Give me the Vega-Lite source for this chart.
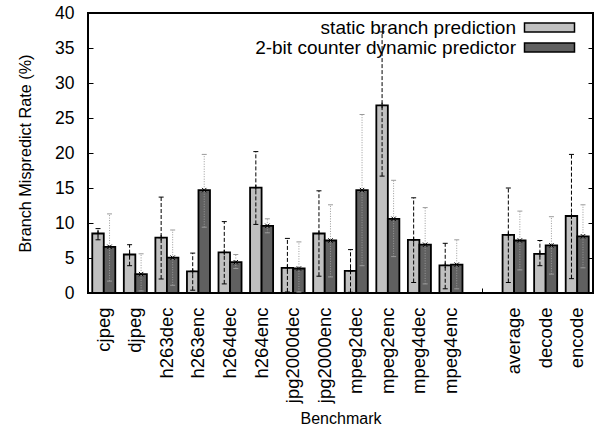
{
  "$schema": "https://vega.github.io/schema/vega-lite/v6.json",
  "width": 505,
  "height": 280,
  "autosize": {"type": "none"},
  "padding": {"left": 88, "top": 13, "right": 4, "bottom": 135},
  "background": "white",
  "config": {
    "font": "Liberation Sans",
    "view": {"stroke": "black", "strokeWidth": 2},
    "axis": {
      "grid": false,
      "domain": false,
      "tickColor": "black",
      "tickSize": -5,
      "tickWidth": 1,
      "labelColor": "black",
      "titleColor": "black",
      "titleFontWeight": "normal"
    },
    "legend": {
      "orient": "none",
      "legendX": 452,
      "legendY": 5,
      "labelFontSize": 19,
      "labelColor": "black",
      "labelAlign": "right",
      "labelOffset": -43,
      "labelLimit": 0,
      "symbolType": "M-5,-0.9L5,-0.9L5,0.9L-5,0.9Z",
      "symbolSize": 100,
      "symbolStrokeColor": "black",
      "symbolStrokeWidth": 1.5,
      "symbolOpacity": 1,
      "rowPadding": 0,
      "padding": 0
    }
  },
  "data": {
    "values": [
      {"bench": "cjpeg", "pred": "static branch prediction", "rate": 8.5, "lo": 7.6, "hi": 9.2},
      {"bench": "cjpeg", "pred": "2-bit counter dynamic predictor", "rate": 6.6, "lo": 1.7, "hi": 11.3},
      {"bench": "djpeg", "pred": "static branch prediction", "rate": 5.5, "lo": 3.9, "hi": 6.9},
      {"bench": "djpeg", "pred": "2-bit counter dynamic predictor", "rate": 2.7, "lo": 0.3, "hi": 5.6},
      {"bench": "h263dec", "pred": "static branch prediction", "rate": 7.9, "lo": 2.0, "hi": 13.7},
      {"bench": "h263dec", "pred": "2-bit counter dynamic predictor", "rate": 5.05, "lo": 1.1, "hi": 9.0},
      {"bench": "h263enc", "pred": "static branch prediction", "rate": 3.1, "lo": 0.4, "hi": 5.7},
      {"bench": "h263enc", "pred": "2-bit counter dynamic predictor", "rate": 14.7, "lo": 9.4, "hi": 19.8},
      {"bench": "h264dec", "pred": "static branch prediction", "rate": 5.8, "lo": 1.3, "hi": 10.2},
      {"bench": "h264dec", "pred": "2-bit counter dynamic predictor", "rate": 4.4, "lo": 3.5, "hi": 5.5},
      {"bench": "h264enc", "pred": "static branch prediction", "rate": 15.05, "lo": 9.8, "hi": 20.2},
      {"bench": "h264enc", "pred": "2-bit counter dynamic predictor", "rate": 9.6, "lo": 8.6, "hi": 10.6},
      {"bench": "jpg2000dec", "pred": "static branch prediction", "rate": 3.6, "lo": 0.15, "hi": 7.8},
      {"bench": "jpg2000dec", "pred": "2-bit counter dynamic predictor", "rate": 3.5, "lo": 0.15, "hi": 7.3},
      {"bench": "jpg2000enc", "pred": "static branch prediction", "rate": 8.5, "lo": 2.4, "hi": 14.6},
      {"bench": "jpg2000enc", "pred": "2-bit counter dynamic predictor", "rate": 7.5, "lo": 2.3, "hi": 12.6},
      {"bench": "mpeg2dec", "pred": "static branch prediction", "rate": 3.15, "lo": 0.1, "hi": 6.2},
      {"bench": "mpeg2dec", "pred": "2-bit counter dynamic predictor", "rate": 14.7, "lo": 3.9, "hi": 25.5},
      {"bench": "mpeg2enc", "pred": "static branch prediction", "rate": 26.8, "lo": 16.7, "hi": 37.3},
      {"bench": "mpeg2enc", "pred": "2-bit counter dynamic predictor", "rate": 10.6, "lo": 5.2, "hi": 16.1},
      {"bench": "mpeg4dec", "pred": "static branch prediction", "rate": 7.6, "lo": 1.5, "hi": 13.6},
      {"bench": "mpeg4dec", "pred": "2-bit counter dynamic predictor", "rate": 6.9, "lo": 1.3, "hi": 12.2},
      {"bench": "mpeg4enc", "pred": "static branch prediction", "rate": 3.95, "lo": 0.6, "hi": 7.1},
      {"bench": "mpeg4enc", "pred": "2-bit counter dynamic predictor", "rate": 4.05, "lo": 0.6, "hi": 7.6},
      {"bench": "average", "pred": "static branch prediction", "rate": 8.3, "lo": 1.5, "hi": 15.0},
      {"bench": "average", "pred": "2-bit counter dynamic predictor", "rate": 7.5, "lo": 3.3, "hi": 11.7},
      {"bench": "decode", "pred": "static branch prediction", "rate": 5.6, "lo": 3.9, "hi": 7.5},
      {"bench": "decode", "pred": "2-bit counter dynamic predictor", "rate": 6.8, "lo": 2.7, "hi": 10.9},
      {"bench": "encode", "pred": "static branch prediction", "rate": 11.0, "lo": 2.05, "hi": 19.8},
      {"bench": "encode", "pred": "2-bit counter dynamic predictor", "rate": 8.1, "lo": 3.6, "hi": 12.6}
    ]
  },
  "encoding": {
    "x": {
      "field": "bench",
      "type": "nominal",
      "scale": {
        "domain": ["cjpeg", "djpeg", "h263dec", "h263enc", "h264dec", "h264enc", "jpg2000dec", "jpg2000enc", "mpeg2dec", "mpeg2enc", "mpeg4dec", "mpeg4enc", " ", "average", "decode", "encode"],
        "paddingInner": 0.27,
        "paddingOuter": 0.135
      },
      "axis": {
        "title": "Benchmark",
        "titleFontSize": 16,
        "titlePadding": 8,
        "labelAngle": -90,
        "labelFontSize": 18.5,
        "labelPadding": 19
      }
    },
    "xOffset": {
      "field": "pred",
      "type": "nominal",
      "scale": {
        "domain": ["static branch prediction", "2-bit counter dynamic predictor"],
        "paddingInner": 0,
        "paddingOuter": 0
      }
    }
  },
  "layer": [
    {
      "mark": {"type": "bar", "stroke": "black", "strokeWidth": 1.8},
      "encoding": {
        "y": {
          "field": "rate",
          "type": "quantitative",
          "scale": {"domain": [0, 40], "nice": false},
          "axis": {
            "title": "Branch Mispredict Rate (%)",
            "titleFontSize": 16.2,
            "titlePadding": 21,
            "values": [0, 5, 10, 15, 20, 25, 30, 35, 40],
            "labelFontSize": 17.5,
            "labelPadding": 19
          }
        },
        "fill": {
          "field": "pred",
          "type": "nominal",
          "scale": {
            "domain": ["static branch prediction", "2-bit counter dynamic predictor"],
            "range": ["#c0c0c0", "#606060"]
          },
          "legend": {"title": null}
        }
      }
    },
    {
      "transform": [{"filter": "datum.pred === 'static branch prediction'"}],
      "mark": {"type": "rule", "stroke": "black", "strokeWidth": 1, "strokeDash": [4, 2]},
      "encoding": {
        "y": {
          "field": "lo",
          "type": "quantitative",
          "axis": {
            "orient": "right",
            "title": null,
            "labels": false,
            "values": [0, 5, 10, 15, 20, 25, 30, 35, 40]
          }
        },
        "y2": {"field": "hi"}
      }
    },
    {
      "transform": [{"filter": "datum.pred === '2-bit counter dynamic predictor'"}],
      "mark": {"type": "rule", "stroke": "#9a9a9a", "strokeWidth": 1, "strokeDash": [1, 1.5]},
      "encoding": {
        "y": {"field": "lo", "type": "quantitative", "axis": null},
        "y2": {"field": "hi"}
      }
    },
    {
      "transform": [{"filter": "datum.pred === 'static branch prediction'"}],
      "mark": {"type": "tick", "size": 5, "thickness": 1, "color": "black", "opacity": 1},
      "encoding": {
        "y": {"field": "hi", "type": "quantitative", "axis": null}
      }
    },
    {
      "transform": [{"filter": "datum.pred === 'static branch prediction'"}],
      "mark": {"type": "tick", "size": 5, "thickness": 1, "color": "black", "opacity": 1},
      "encoding": {
        "y": {"field": "lo", "type": "quantitative", "axis": null}
      }
    },
    {
      "transform": [{"filter": "datum.pred === '2-bit counter dynamic predictor'"}],
      "mark": {"type": "tick", "size": 5, "thickness": 1, "color": "#9a9a9a", "opacity": 1},
      "encoding": {
        "y": {"field": "hi", "type": "quantitative", "axis": null}
      }
    },
    {
      "transform": [{"filter": "datum.pred === '2-bit counter dynamic predictor'"}],
      "mark": {"type": "tick", "size": 5, "thickness": 1, "color": "#9a9a9a", "opacity": 1},
      "encoding": {
        "y": {"field": "lo", "type": "quantitative", "axis": null}
      }
    },
    {
      "transform": [{"filter": "datum.pred === 'static branch prediction'"}],
      "mark": {"type": "point", "shape": "M-1,0L1,0M0,-1L0,1", "filled": false, "stroke": "black", "strokeWidth": 1, "size": 30, "opacity": 1},
      "encoding": {
        "y": {"field": "rate", "type": "quantitative", "axis": null}
      }
    },
    {
      "transform": [{"filter": "datum.pred === '2-bit counter dynamic predictor'"}],
      "mark": {"type": "point", "shape": "M-0.8,-0.8L0.8,0.8M-0.8,0.8L0.8,-0.8", "filled": false, "stroke": "black", "strokeWidth": 1, "size": 30, "opacity": 1},
      "encoding": {
        "y": {"field": "rate", "type": "quantitative", "axis": null}
      }
    }
  ],
  "resolve": {"axis": {"y": "independent"}}
}
